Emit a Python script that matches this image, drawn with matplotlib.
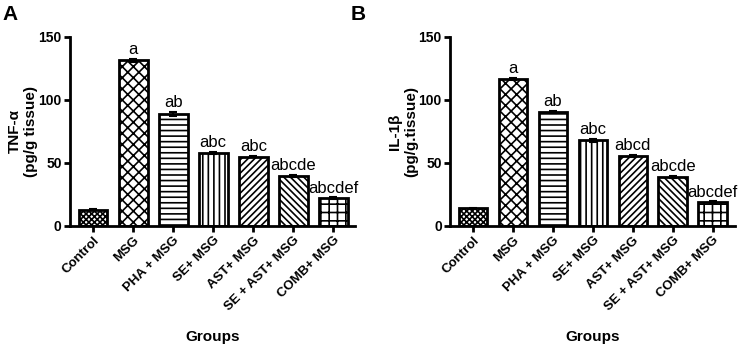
import matplotlib.pyplot as plt
import numpy as np

plt.rcParams['font.family'] = ['Liberation Sans', 'DejaVu Sans']
plt.rcParams['hatch.linewidth'] = 1.2

groups = ['Control', 'MSG', 'PHA + MSG', 'SE+ MSG', 'AST+ MSG', 'SE + AST+ MSG', 'COMB+ MSG']
tnf = [13, 131.5, 89, 58, 55, 40, 22]
tnf_err = [0.6, 1.2, 1.8, 1.0, 0.6, 0.8, 0.6]
tnf_letters = ['', 'a', 'ab', 'abc', 'abc', 'abcde', 'abcdef']
il1b = [14, 116.5, 90.5, 68, 55.5, 39, 19]
il1b_err = [0.6, 0.8, 0.6, 1.0, 0.8, 0.6, 0.5]
il1b_letters = ['', 'a', 'ab', 'abc', 'abcd', 'abcde', 'abcdef']
hatches = ['xxxxxx', 'xxx', '---', '|||', '/////', '\\\\\\\\\\', '++']


def draw_panel(ax, values, errors, letters, ylabel, tag, tag_x):
    x = np.arange(len(groups))
    ax.bar(x, values, width=0.72, color='white', edgecolor='black', linewidth=2,
           hatch=hatches, yerr=errors, capsize=3,
           error_kw=dict(elinewidth=1.5, capthick=1.5))
    for xi, v, e, t in zip(x, values, errors, letters):
        if t:
            ax.text(xi, v + e + 1.5, t, ha='center', va='bottom', fontsize=12)
    ax.set_xlim(-0.575, 6.55)
    ax.set_ylim(0, 150)
    ax.set_yticks([0, 50, 100, 150])
    ax.set_xticks(x)
    ax.set_xticklabels(groups, rotation=45, ha='right', rotation_mode='anchor',
                       fontsize=9.5, fontweight='bold')
    for lab in ax.get_yticklabels():
        lab.set_fontweight('bold')
        lab.set_fontsize(10)
    ax.spines['top'].set_visible(False)
    ax.spines['right'].set_visible(False)
    ax.spines['left'].set_linewidth(2)
    ax.spines['bottom'].set_linewidth(2)
    ax.tick_params(width=2, length=4, pad=2)
    ax.set_ylabel(ylabel, fontsize=11, fontweight='bold', labelpad=0)
    ax.text(tag_x, 1.12, tag, transform=ax.transAxes, fontsize=15, fontweight='bold',
            va='center', ha='left')


fig = plt.figure(figsize=(7.49, 3.45), dpi=100)
ax1 = fig.add_axes([0.0935, 0.345, 0.381, 0.548])
ax2 = fig.add_axes([0.601, 0.345, 0.380, 0.548])

draw_panel(ax1, tnf, tnf_err, tnf_letters, 'TNF-α\n(pg/g tissue)', 'A', -0.235)
draw_panel(ax2, il1b, il1b_err, il1b_letters, 'IL-1β\n(pg/g.tissue)', 'B', -0.35)

# x-axis titles sit near the bottom edge of the figure
for ax in (ax1, ax2):
    pos = ax.get_position()
    fig.text((pos.x0 + pos.x1) / 2, 1 - 337 / 345, 'Groups', fontsize=11,
             fontweight='bold', ha='center', va='center')

fig.savefig('out.png', dpi=100)
